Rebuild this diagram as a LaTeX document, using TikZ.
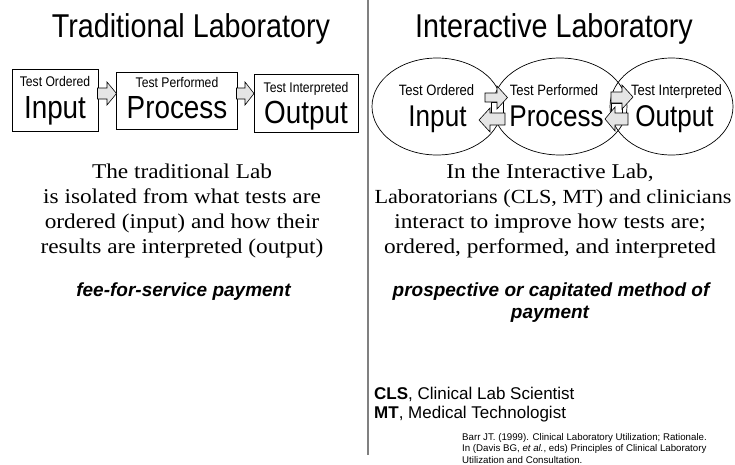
\documentclass[tikz,border=0pt]{standalone}
\usepackage{fontspec}
\setmainfont{Liberation Serif}[FakeStretch=1.11]
\setsansfont{Liberation Sans}
\newfontfamily\nsans[FakeStretch=0.87]{Liberation Sans}
\newfontfamily\plainsans{Liberation Sans}
\usetikzlibrary{shapes.geometric}
\begin{document}
\begin{tikzpicture}[x=1pt,y=-1pt,
  box/.style={draw=black,line width=0.8pt,inner sep=0pt,rectangle},
  ell/.style={draw=black,line width=0.7pt,inner sep=0pt,ellipse},
  blk/.style={draw=black,line width=0.6pt,fill=gray!20,line join=miter},
  bar/.style={draw=black,line width=0.6pt,fill=white},
  ttl/.style={font=\nsans\fontsize{33}{36}\selectfont,anchor=base,inner sep=0pt},
  small/.style={font=\nsans\fontsize{14}{16}\selectfont,anchor=base,inner sep=0pt},
  big/.style={font=\nsans\fontsize{32}{34}\selectfont,anchor=base,inner sep=0pt},
  smallr/.style={font=\nsans\fontsize{15}{17}\selectfont,anchor=base,inner sep=0pt},
  bigr/.style={font=\nsans\fontsize{30}{32}\selectfont,anchor=base,inner sep=0pt},
  para/.style={font=\fontsize{21}{25}\selectfont,anchor=base,inner sep=0pt},
  pay/.style={font=\plainsans\bfseries\itshape\fontsize{19}{22}\selectfont,anchor=base,inner sep=0pt},
  abbr/.style={font=\plainsans\fontsize{17}{20}\selectfont,anchor=base west,inner sep=0pt},
  ref/.style={font=\plainsans\fontsize{9.7}{11.5}\selectfont,anchor=base west,inner sep=0pt},
  sep/.style={draw=gray,line width=1.3pt}
]
\useasboundingbox (0,0) rectangle (735,464);
% separator
\coordinate (sepTop) at (368,0);
\coordinate (sepBot) at (368,455);
\draw[sep] (sepTop) -- (sepBot);

% titles
\node[ttl] (t1) at (191,37) {Traditional Laboratory};
\node[ttl] (t2) at (554,37) {Interactive Laboratory};

% traditional boxes
\node[box,minimum width=86pt,minimum height=62pt] (b1) at (55,100) {};
\node[box,minimum width=121pt,minimum height=57pt] (b2) at (176.5,100.5) {};
\node[box,minimum width=104pt,minimum height=58pt] (b3) at (306,103) {};
\node[small] (b1s) at (55,86) {Test Ordered};
\node[big] (b1b) at (55,118) {Input};
\node[small] (b2s) at (177,87) {Test Performed};
\node[big] (b2b) at (177,118) {Process};
\node[small] (b3s) at (306,92) {Test Interpreted};
\node[big] (b3b) at (306,123) {Output};
% block arrows
\draw[blk] (97.5,88) -- (107,88) -- (107,82) -- (116.5,93.5) -- (107,105) -- (107,99) -- (97.5,99) -- cycle;
\draw[blk] (236.5,88) -- (245,88) -- (245,82) -- (254,93.5) -- (245,105) -- (245,99) -- (236.5,99) -- cycle;

% interactive ellipses
\node[ell,minimum width=130pt,minimum height=97pt] (e1) at (437,106.5) {};
\node[ell,minimum width=134pt,minimum height=97pt] (e2) at (560,106.5) {};
\node[ell,minimum width=123pt,minimum height=97pt] (e3) at (671.5,106.5) {};
% loops between ellipses
\draw[bar] (491.5,102) rectangle (503,113);
\draw[blk] (485,93) -- (497,93) -- (497,86) -- (507.5,97.5) -- (497,109) -- (497,102) -- (485,102) -- cycle;
\draw[blk] (505,113) -- (490,113) -- (490,108) -- (479,120) -- (490,132) -- (490,125) -- (505,125) -- cycle;
\draw[bar] (611,103) rectangle (622,113);
\draw[blk] (611,92) -- (622,92) -- (622,85) -- (633,97) -- (622,109) -- (622,103) -- (611,103) -- cycle;
\draw[blk] (628,113) -- (615,113) -- (615,107) -- (605,119) -- (615,131) -- (615,125) -- (628,125) -- cycle;
\node[smallr] (e1s) at (436.5,95) {Test Ordered};
\node[bigr] (e1b) at (437.5,126) {Input};
\node[smallr] (e2s) at (554,95) {Test Performed};
\node[bigr] (e2b) at (556.5,126) {Process};
\node[smallr] (e3s) at (676.5,95) {Test Interpreted};
\node[bigr] (e3b) at (674.5,126) {Output};

% paragraphs
\node[para] (l1) at (182,178) {The traditional Lab};
\node[para] (l2) at (182,203) {is isolated from what tests are};
\node[para] (l3) at (182,228) {ordered (input) and how their};
\node[para] (l4) at (182,253) {results are interpreted (output)};
\node[para] (r1) at (550,178) {In the Interactive Lab,};
\node[para,font=\fontsize{20}{25}\selectfont] (r2) at (553,203) {Laboratorians (CLS, MT) and clinicians};
\node[para] (r3) at (550,228) {interact to improve how tests are;};
\node[para] (r4) at (550,253) {ordered, performed, and interpreted};

% payment
\node[pay] (p1) at (183.5,296) {fee-for-service payment};
\node[pay] (p2) at (551,296) {prospective or capitated method of};
\node[pay] (p3) at (550,318) {payment};

% abbreviations
\node[abbr] (a1) at (374,399) {\textbf{CLS}, Clinical Lab Scientist};
\node[abbr] (a2) at (374,418) {\textbf{MT}, Medical Technologist};

% reference
\node[ref] (f1) at (462,440) {Barr JT. (1999). Clinical Laboratory Utilization; Rationale.};
\node[ref] (f2) at (462,451.5) {In (Davis BG, \textit{et al.}, eds) Principles of Clinical Laboratory};
\node[ref] (f3) at (462,463) {Utilization and Consultation.};
\end{tikzpicture}
\end{document}
